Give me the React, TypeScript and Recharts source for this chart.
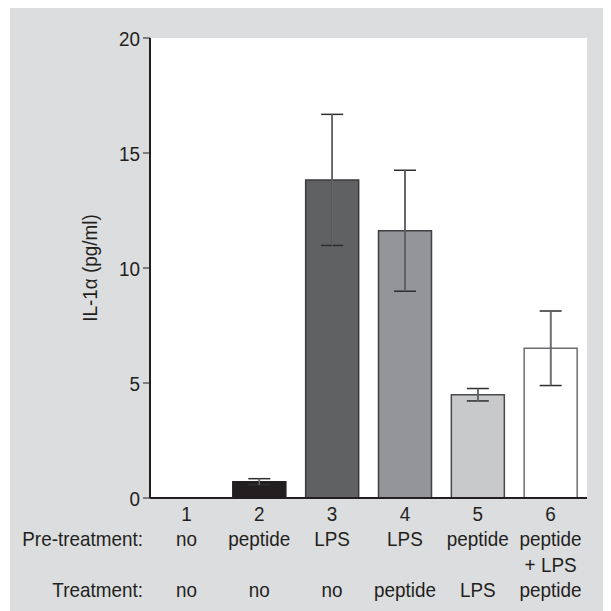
import React from "react";
import { BarChart, Bar, XAxis, YAxis, ErrorBar, Cell, CartesianGrid } from "recharts";

const groups = ["1", "2", "3", "4", "5", "6"];
const preTreatment = ["no", "peptide", "LPS", "LPS", "peptide", "peptide"];
const preTreatmentExtra = ["", "", "", "", "", "+ LPS"];
const treatment = ["no", "no", "no", "peptide", "LPS", "peptide"];
const values = [0, 0.71, 13.83, 11.62, 4.49, 6.51];
const errors: (number | null)[] = [null, 0.13, 2.85, 2.63, 0.27, 1.62];
const yTicks = [0, 5, 10, 15, 20];

const fills = ["#ffffff", "#231f20", "#606163", "#939598", "#c8c9cb", "#ffffff"];
const strokes = ["#231f20", "#231f20", "#3a3a3c", "#3f4042", "#4a4a4c", "#6d6e71"];

const data = groups.map((g, i) => ({
  id: g,
  value: values[i],
  err: errors[i],
}));

const FONT = "'Liberation Sans', Arial, Helvetica, sans-serif";
const TEXT = "#231f20";
const FS = 21;
const SX = 0.9;

const T = ({ x, y, anchor, children }: any) => (
  <g transform={`translate(${x},${y}) scale(${SX},1)`}>
    <text x={0} y={0} textAnchor={anchor} fontFamily={FONT} fontSize={FS} fill={TEXT}>
      {children}
    </text>
  </g>
);

const XTick = (props: any) => {
  const { x, y, index } = props;
  const i = index as number;
  return (
    <g>
      <T x={x} y={y + 23} anchor="middle">{groups[i]}</T>
      <T x={x} y={y + 48} anchor="middle">{preTreatment[i]}</T>
      {preTreatmentExtra[i] ? <T x={x} y={y + 74} anchor="middle">{preTreatmentExtra[i]}</T> : null}
      <T x={x} y={y + 99} anchor="middle">{treatment[i]}</T>
      {i === 0 ? (
        <>
          <T x={133} y={y + 48} anchor="end">Pre-treatment:</T>
          <T x={133} y={y + 99} anchor="end">Treatment:</T>
        </>
      ) : null}
    </g>
  );
};

const YTick = (props: any) => {
  const { x, y, payload } = props;
  return <T x={x} y={y + 7.5} anchor="end">{payload.value}</T>;
};

const YLabel = (props: any) => {
  const vb = props.viewBox || {};
  const cy = vb.y + vb.height / 2;
  const bx = 87;
  return (
    <g transform={`translate(${bx},${cy}) rotate(-90) scale(${SX},1)`}>
      <text x={0} y={0} textAnchor="middle" fontFamily={FONT} fontSize={FS} fill={TEXT}>
        IL-1α (pg/ml)
      </text>
    </g>
  );
};

export default function App() {
  return (
    <div style={{ marginLeft: 2, width: 601, height: 603, background: "#dcdddf" }}>
      <BarChart
        width={601}
        height={603}
        data={data}
        margin={{ top: 30, right: 24, left: 0, bottom: 0 }}
      >
        <CartesianGrid horizontal={false} vertical={false} fill="#ffffff" />
        <XAxis
          dataKey="id"
          height={113}
          tickLine={false}
          tickSize={0}
          tickMargin={0}
          interval={0}
          axisLine={{ stroke: TEXT, strokeWidth: 2 }}
          tick={<XTick />}
        />
        <XAxis
          xAxisId="top"
          dataKey="id"
          orientation="top"
          height={0}
          tick={false}
          tickLine={false}
          axisLine={{ stroke: TEXT, strokeWidth: 1.5 }}
        />
        <YAxis
          width={140}
          domain={[0, 20]}
          ticks={yTicks}
          tickSize={7}
          tickMargin={3}
          interval={0}
          tick={<YTick />}
          tickLine={{ stroke: TEXT, strokeWidth: 1 }}
          axisLine={{ stroke: TEXT, strokeWidth: 2 }}
          label={<YLabel />}
        />
        <YAxis
          yAxisId="right"
          orientation="right"
          width={0}
          domain={[0, 20]}
          tick={false}
          tickLine={false}
          axisLine={{ stroke: TEXT, strokeWidth: 1.5 }}
        />
        <Bar dataKey="value" barSize={53} strokeWidth={1.5} isAnimationActive={false}>
          {data.map((d, i) => (
            <Cell key={d.id} fill={fills[i]} stroke={strokes[i]} />
          ))}
          <ErrorBar dataKey="err" width={11} stroke="#2e2e30" strokeWidth={1.5} isAnimationActive={false} />
          <ErrorBar dataKey="err" width={0} stroke="#6a6b6e" strokeWidth={1.5} isAnimationActive={false} />
        </Bar>
      </BarChart>
    </div>
  );
}
